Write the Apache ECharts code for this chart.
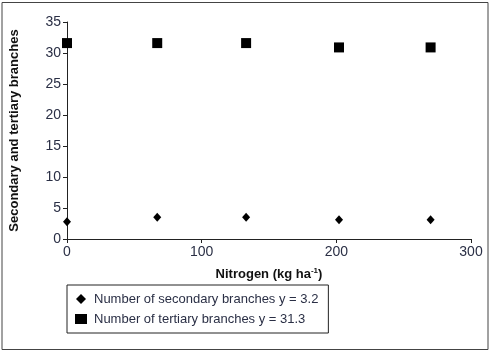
<!DOCTYPE html>
<html><head><meta charset="utf-8">
<script src="https://cdn.jsdelivr.net/npm/echarts@6/dist/echarts.min.js"></script>
<style>html,body{margin:0;padding:0;background:#fff}#c{width:496px;height:355px}</style>
</head><body><div id="c"></div>
<script>
const nitrogen = [0, 67, 133, 202, 270];
const secondary = [2.8, 3.5, 3.5, 3.1, 3.1];
const tertiary = [31.6, 31.6, 31.6, 30.9, 30.9];
const seriesNames = ['Number of secondary branches y = 3.2', 'Number of tertiary branches y = 31.3'];
const xTitle = 'Nitrogen (kg ha';
const yTitle = 'Secondary and tertiary branches';

const FONT = '"Liberation Sans Narrow","Liberation Sans",Arial,sans-serif';
const chart = echarts.init(document.getElementById('c'), null, {renderer: 'canvas'});
const diamond = 'path://M0,-1L1,0L0,1L-1,0Z';
chart.setOption({
  animation: false,
  backgroundColor: '#fff',
  textStyle: {fontFamily: FONT},
  graphic: [{type: 'rect', shape: {x: 2, y: 2.5, width: 486, height: 347}, style: {fill: 'none', stroke: '#444', lineWidth: 1}, silent: true}],
  grid: {left: 66, right: 25, top: 22, bottom: 116, containLabel: false},
  xAxis: {
    type: 'value', min: 0, max: 300, interval: 100,
    name: '{n|' + xTitle + '}{s|-1}{n|)}', nameLocation: 'middle', nameGap: 28,
    nameTextStyle: {rich: {
      n: {fontFamily: FONT, fontSize: 13, fontWeight: 'bold', color: '#111'},
      s: {fontFamily: FONT, fontSize: 8, fontWeight: 'bold', color: '#111', verticalAlign: 'top', padding: [0, 0, 6, 0]}
    }},
    axisLine: {show: true, lineStyle: {color: '#222', width: 1}},
    axisTick: {show: true, inside: false, length: 4, lineStyle: {color: '#222'}},
    axisLabel: {fontFamily: FONT, fontSize: 14, color: '#2a2f45', margin: 6},
    splitLine: {show: false}
  },
  yAxis: {
    type: 'value', min: 0, max: 35, interval: 5,
    name: yTitle, nameLocation: 'middle', nameGap: 46, nameRotate: 90,
    nameTextStyle: {fontFamily: FONT, fontSize: 13, fontWeight: 'bold', color: '#111'},
    axisLine: {show: true, lineStyle: {color: '#222', width: 1}},
    axisTick: {show: true, inside: false, length: 4, lineStyle: {color: '#222'}},
    axisLabel: {fontFamily: FONT, fontSize: 14, color: '#2a2f45', margin: 6},
    splitLine: {show: false}
  },
  legend: {
    orient: 'vertical', left: 67, top: 285,
    borderColor: '#222', borderWidth: 1, padding: [7, 10, 7, 8],
    itemGap: 6, itemWidth: 12, itemHeight: 10,
    textStyle: {fontFamily: FONT, fontSize: 13, color: '#2a2f45', padding: [0, 0, 0, 2], height: 14, lineHeight: 14},
    data: [{name: seriesNames[0], icon: diamond, itemStyle: {color: '#000', opacity: 1}}, {name: seriesNames[1], icon: 'rect', itemStyle: {color: '#000', opacity: 1}}]
  },
  series: [
    {name: seriesNames[0], type: 'scatter', symbol: diamond, symbolSize: [8, 9],
     itemStyle: {color: '#000', opacity: 1}, data: nitrogen.map((x, i) => [x, secondary[i]])},
    {name: seriesNames[1], type: 'scatter', symbol: 'rect', symbolSize: 10,
     itemStyle: {color: '#000', opacity: 1}, data: nitrogen.map((x, i) => [x, tertiary[i]])}
  ]
});
</script></body></html>
